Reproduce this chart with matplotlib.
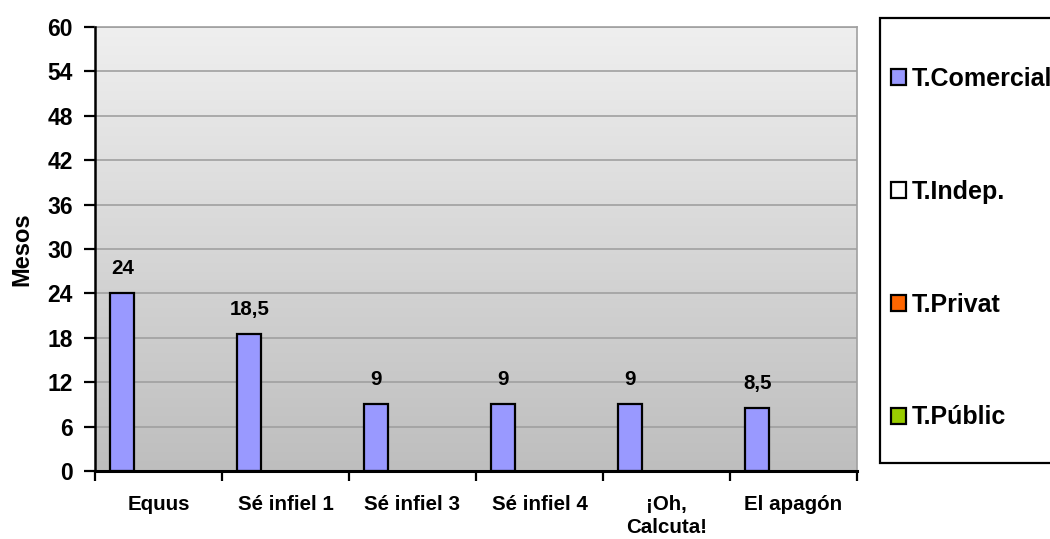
import numpy as np
import matplotlib
matplotlib.use("Agg")
import matplotlib.pyplot as plt
from matplotlib.patches import Patch, Rectangle

plt.rcParams['font.family'] = ['Liberation Sans', 'DejaVu Sans']
plt.rcParams['font.weight'] = 'bold'

categories = ["Equus", "Sé infiel 1", "Sé infiel 3", "Sé infiel 4", "¡Oh,\nCalcuta!", "El apagón"]
series_names = ["T.Comercial", "T.Indep.", "T.Privat", "T.Públic"]
comercial = [24, 18.5, 9, 9, 9, 8.5]
indep = [0, 0, 0, 0, 0, 0]
privat = [0, 0, 0, 0, 0, 0]
public = [0, 0, 0, 0, 0, 0]
series_values = [comercial, indep, privat, public]
series_colors = ["#9999FF", "#FFFFFF", "#FF6600", "#99CC00"]
value_labels = ["24", "18,5", "9", "9", "9", "8,5"]
yticks = [0, 6, 12, 18, 24, 30, 36, 42, 48, 54, 60]

fs = 14.8       # category and value labels
fs_tick = 16.5  # y tick labels
fs_ylab = 17    # axis title
fs_leg = 18     # legend entries

fig = plt.figure(figsize=(10.5, 5.39), dpi=100)
ax = fig.add_axes([95/1050, 1-471/539, (857-95)/1050, (471-27)/539])

# vertical grey gradient behind the bars
grad = np.linspace(0, 1, 256).reshape(-1, 1)
cmap = matplotlib.colors.LinearSegmentedColormap.from_list('bg', ['#BEBEBE', '#EFEFEF'])
ax.imshow(grad, extent=[-0.5, 5.5, 0, 60], aspect='auto', origin='lower',
          cmap=cmap, zorder=0)

x = np.arange(len(categories))
w = 0.189
for i, (vals, col) in enumerate(zip(series_values, series_colors)):
    pos = x + (i - 1.5) * w
    edges = ['black' if v != 0 else 'none' for v in vals]
    ax.bar(pos, vals, width=w, color=col, edgecolor=edges, linewidth=1.6, zorder=3)
    if i == 0:
        for p, v, lab in zip(pos, vals, value_labels):
            ax.annotate(lab, (p, v), xytext=(0, 11), textcoords='offset points',
                        ha='center', va='bottom', fontsize=fs, fontweight='bold')

ax.set_xlim(-0.5, 5.5)
ax.set_ylim(0, 60)
ax.set_yticks(yticks)
ax.set_yticklabels([str(t) for t in yticks], fontsize=fs_tick, fontweight='bold')
ax.yaxis.grid(True, color='#A0A0A0', linewidth=1.2)
for gl in ax.get_ygridlines():
    gl.set_zorder(1)

ax.set_xticks(x)
ax.set_xticklabels(categories, fontsize=fs, fontweight='bold', linespacing=1.3)
ax.tick_params(axis='x', which='major', length=0, pad=17)
ax.set_xticks(np.arange(-0.5, 6.0, 1.0), minor=True)
ax.tick_params(axis='x', which='minor', length=7, width=1.6, direction='out', color='black')
ax.tick_params(axis='y', length=8, width=1.6, direction='out', pad=8)

ax.spines['left'].set_linewidth(1.8)
ax.spines['bottom'].set_linewidth(2.2)
for side in ('top', 'right'):
    ax.spines[side].set_color('#A0A0A0')
    ax.spines[side].set_linewidth(1.2)
ax.spines['left'].set_zorder(5)
ax.spines['bottom'].set_zorder(5)

ax.set_ylabel("Mesos", fontsize=fs_ylab, fontweight='bold', labelpad=10)

# legend box on the right
fig.add_artist(Rectangle((880/1050, 1-463/539), 180/1050, 445/539,
                         transform=fig.transFigure, facecolor='white',
                         edgecolor='black', linewidth=1.6, zorder=0))
handles = [Patch(facecolor=c, edgecolor='black', linewidth=1.6) for c in series_colors]
leg = fig.legend(handles, series_names, loc='center left',
                 bbox_to_anchor=(891/1050, 1-248/539), frameon=False,
                 handlelength=0.6, handleheight=0.6, handletextpad=0.24,
                 labelspacing=3.56, borderpad=0, borderaxespad=0,
                 prop={'weight': 'bold', 'size': fs_leg})
leg.set_zorder(2)

fig.savefig("out.png", dpi=100)
